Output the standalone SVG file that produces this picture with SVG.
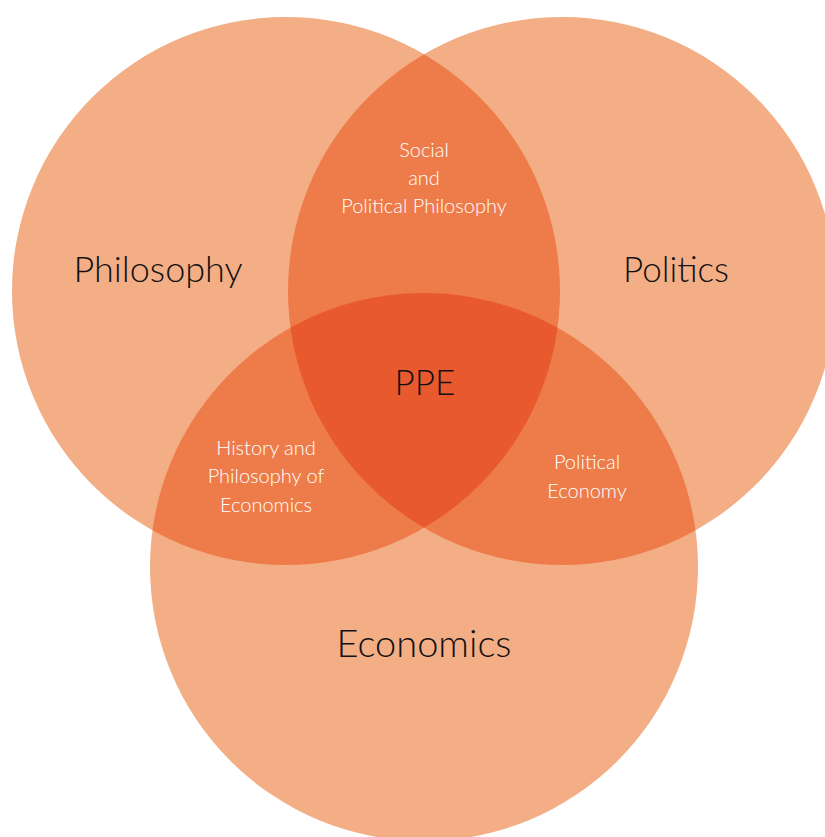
<svg xmlns="http://www.w3.org/2000/svg" width="825" height="837" viewBox="0 0 825 837">
<style>
.c1{fill:#F3AE86}
.c2{fill:#EE7C4A}
.c3{fill:#E9592E}
.big{font-family:Lato,"Liberation Sans",sans-serif;font-weight:300;fill:#111;text-anchor:middle}
.small{font-family:Lato,"Liberation Sans",sans-serif;font-weight:300;fill:#fff;text-anchor:middle;font-size:20px}
</style>
<defs>
<clipPath id="cpPhil"><circle cx="286" cy="291" r="274"/></clipPath>
<clipPath id="cpPol"><circle cx="562" cy="291" r="274"/></clipPath>
<clipPath id="cpEcoPol" clip-path="url(#cpPol)"><circle cx="424" cy="567" r="274"/></clipPath>
</defs>
<rect width="825" height="837" fill="#fff"/>
<g id="philosophy">
<circle class="c1" cx="286" cy="291" r="274"/>
</g>
<g id="politics">
<circle class="c1" cx="562" cy="291" r="274"/>
</g>
<g id="economics">
<circle class="c1" cx="424" cy="567" r="274"/>
</g>
<g id="overlaps">
<circle class="c2" cx="562" cy="291" r="274" clip-path="url(#cpPhil)"/>
<circle class="c2" cx="424" cy="567" r="274" clip-path="url(#cpPhil)"/>
<circle class="c2" cx="424" cy="567" r="274" clip-path="url(#cpPol)"/>
<circle class="c3" cx="286" cy="291" r="274" clip-path="url(#cpEcoPol)"/>
</g>
<g id="labels">
<text class="big" x="158" y="282" font-size="36">Philosophy</text>
<text class="big" x="676" y="282" font-size="35">Politics</text>
<text class="big" x="424" y="657" font-size="38">Economics</text>
<text class="big" x="425" y="395" font-size="35">PPE</text>
<text class="small" x="424" y="157">Social</text>
<text class="small" x="424" y="185">and</text>
<text class="small" x="424" y="213">Political Philosophy</text>
<text class="small" x="266" y="455">History and</text>
<text class="small" x="266" y="483">Philosophy of</text>
<text class="small" x="266" y="512">Economics</text>
<text class="small" x="587" y="469">Political</text>
<text class="small" x="587" y="498">Economy</text>
</g>
</svg>
